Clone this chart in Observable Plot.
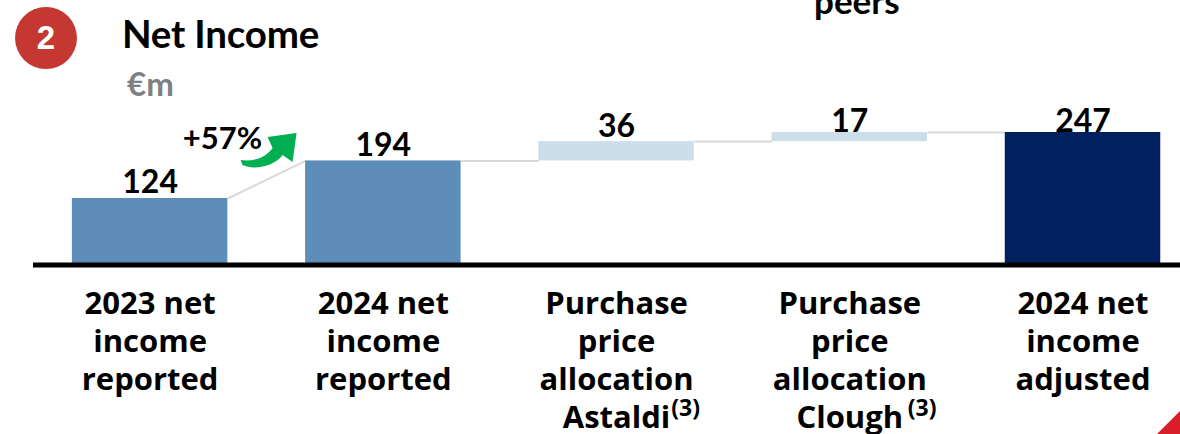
<!DOCTYPE html>
<html>
<head>
<meta charset="utf-8">
<script src="https://cdn.jsdelivr.net/npm/d3@7"></script>
<script src="https://cdn.jsdelivr.net/npm/@observablehq/plot@0.6"></script>
<style>
  html, body { margin: 0; background: #fff; overflow: hidden; }
  body { width: 1180px; height: 434px; position: relative; font-family: Lato, sans-serif; }
  #header { position: relative; height: 96px; }
  #header div { position: absolute; white-space: nowrap; }
  #carry { left: 814px; top: -21px; font: 700 35px Lato, sans-serif; color: #000; }
  #badge { left: 15px; top: 7px; width: 62px; height: 62px; border-radius: 50%; background: #c53832;
           color: #fff; font: 700 33px/62px "Liberation Sans", sans-serif; text-align: center; }
  #title { left: 122px; top: 10px; font: 700 38.5px Lato, sans-serif; color: #000; letter-spacing: -0.2px; }
  #unit { left: 127px; top: 63px; font: 700 33px Lato, sans-serif; color: #7f8080; }
  #corner { position: absolute; right: 0; bottom: 0; width: 23px; height: 23px; background: #d9202a;
            clip-path: polygon(100% 0, 100% 100%, 0 100%); }
  svg { display: block; position: relative; }
</style>
</head>
<body>
<div id="header">
  <div id="carry">peers</div>
  <div id="badge">2</div>
  <div id="title">Net Income</div>
  <div id="unit">€m</div>
</div>
<div id="chart"></div>
<div id="corner"></div>
<script>
// Waterfall from reported to adjusted 2024 net income, in € million.
const categories = [
  "2023 net\nincome\nreported",
  "2024 net\nincome\nreported",
  "Purchase\nprice\nallocation\nAstaldi",
  "Purchase\nprice\nallocation\nClough",
  "2024 net\nincome\nadjusted"
];
const values = [124, 194, 36, 17, 247];
const starts = [0, 0, 194, 230, 0];
const fills = ["#5e8db9", "#5e8db9", "#ccdeea", "#ccdeea", "#012060"];
const growthLabel = "+57%";
const footnotePositions = [2.296, 3.31];

const bars = values.map((v, i) => ({
  i, value: v, low: starts[i], high: starts[i] + v, fill: fills[i]
}));
const halfBar = 1 / 3;
// Each connector leaves the top of a bar and reaches the next bar's start level
// (or its top when that bar stands on the baseline).
const connectors = bars.slice(0, -1).map((b, k) => ({
  from: b.i + halfBar,
  to: b.i + 1 - halfBar,
  y1: b.high,
  y2: bars[k + 1].low || bars[k + 1].high
}));

// Curved growth arrow, placed through the chart scales between the first two bars.
function growthArrow(index, {x, y}) {
  const path = d3.create("svg:path")
    .attr("fill", "#00b050")
    .attr("transform", `translate(${x(0.39)},${y(124)})`)
    .attr("d", "M0,-38 C12,-36 25,-40 32,-50 L27,-61 L56,-65 L52,-36 L42,-43 C36,-33 14,-27 2,-33 Z");
  return path.node();
}

const valueFont = {fontFamily: "Lato, sans-serif", fontWeight: 700};
const axisFont = {fontFamily: "'Open Sans', sans-serif", fontWeight: 700};

const chart = Plot.plot({
  width: 1180,
  height: 338,
  marginLeft: 33,
  marginRight: 0,
  marginTop: 36,
  marginBottom: 169.5,
  x: {type: "linear", domain: [-0.5, 4.418]},
  y: {domain: [0, 247], axis: null},
  marks: [
    Plot.link(connectors, {x1: "from", x2: "to", y1: "y1", y2: "y2", stroke: "#d9d9d9", strokeWidth: 2}),
    Plot.rectY(bars, {x1: d => d.i - halfBar, x2: d => d.i + halfBar, y1: "low", y2: "high", fill: "fill"}),
    Plot.ruleY([0], {stroke: "#000", strokeWidth: 5}),
    Plot.axisX({
      ticks: d3.range(categories.length),
      tickFormat: i => categories[i],
      tickSize: 0,
      tickPadding: 22,
      lineAnchor: "top",
      label: null,
      fontSize: 31,
      lineHeight: 1.226,
      ...axisFont,
      fill: "#000"
    }),
    Plot.text(bars.slice(0, 3), {x: "i", y: "high", text: d => String(d.value), dy: -5, lineAnchor: "bottom", fontSize: 32, fill: "#000", ...valueFont}),
    Plot.text(bars.slice(3), {x: "i", y: "high", text: d => String(d.value), dy: -1, lineAnchor: "bottom", fontSize: 32, fill: "#000", ...valueFont}),
    Plot.text(footnotePositions, {x: d => d, y: 0, text: () => "(3)", dy: 144, fontSize: 23, fill: "#000", ...axisFont}),
    growthArrow,
    Plot.text([growthLabel], {x: 0.31, y: 194, dy: -22, fontSize: 31, fill: "#000", ...valueFont})
  ]
});
document.getElementById("chart").append(chart);
</script>
</body>
</html>
